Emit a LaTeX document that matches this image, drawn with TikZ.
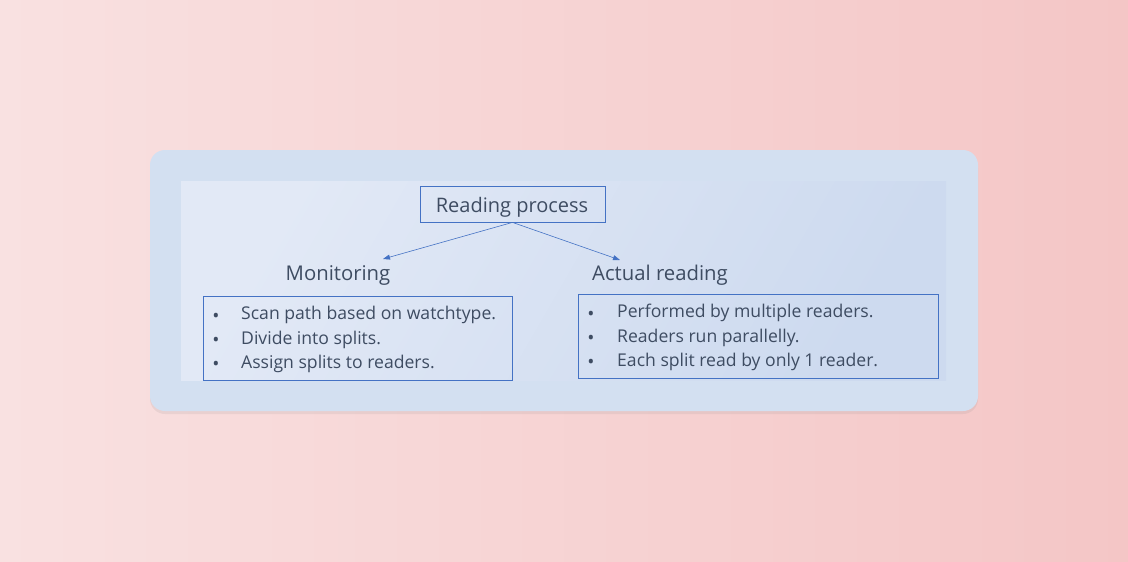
\documentclass[tikz,border=0pt]{standalone}
\usepackage{fontspec}
\setmainfont{Open Sans}
\usetikzlibrary{arrows.meta, shadows}

\definecolor{bgleft}{RGB}{249,225,225}
\definecolor{bgright}{RGB}{244,198,198}
\definecolor{cardblue}{RGB}{211,224,241}
\definecolor{panelhi}{RGB}{226,233,246}
\definecolor{panello}{RGB}{205,218,239}
\definecolor{lineblue}{RGB}{68,114,196}
\definecolor{textgray}{RGB}{62,76,98}

\begin{document}
\begin{tikzpicture}[
    x=1pt, y=-1pt,
    font=\fontsize{17.6}{21}\selectfont,
    every node/.style={text=textgray, inner sep=0pt},
    titlebox/.style={draw=lineblue, line width=0.8pt, minimum width=185pt, minimum height=36pt},
    heading/.style={font=\fontsize{20.3}{24}\selectfont},
    itembox/.style={draw=lineblue, line width=0.8pt, anchor=north west},
    bulletline/.style={anchor=west},
    dotmark/.style={anchor=center, font=\fontsize{19}{20}\selectfont},
    link/.style={draw=lineblue, line width=0.6pt, -{Triangle[length=7pt, width=5pt]}}
  ]

  \useasboundingbox (0,0) rectangle (1128,562);
  % background and card
  \shade[left color=bgleft, right color=bgright] (0,0) rectangle (1128,562);
  \fill[cardblue, rounded corners=15pt, drop shadow={shadow xshift=0pt, shadow yshift=-3pt, opacity=0.12}]
    (150,150) rectangle (978,411);
  \shade[left color=panelhi, right color=panello, shading angle=60] (181,181) rectangle (946,380);

  % top node
  \node[titlebox] (process) at (512.5,204) {};
  \node (processtext) at (512,207) {\fontsize{20}{24}\selectfont Reading process};

  % headings
  \node[heading] (monitor) at (338,275.5) {Monitoring};
  \node[heading] (actual) at (660,275.5) {Actual reading};
  \coordinate (monitortip) at (383,259);
  \coordinate (actualtip) at (620,260);

  \draw[link] (process.south) -- (monitortip);
  \draw[link] (process.south) -- (actualtip);

  % left list
  \node[itembox, minimum width=309pt, minimum height=84pt] (monitorbox) at (203,296) {};
  \node[dotmark] (m1b) at (216,317.5) {•};
  \node[bulletline] (m1) at (241,315) {Scan path based on watchtype.};
  \node[dotmark] (m2b) at (216,341.5) {•};
  \node[bulletline] (m2) at (241,339.5) {Divide into splits.};
  \node[dotmark] (m3b) at (216,365.5) {•};
  \node[bulletline] (m3) at (241,364) {Assign splits to readers.};

  % right list
  \node[itembox, minimum width=360pt, minimum height=84pt] (actualbox) at (578,294) {};
  \node[dotmark] (a1b) at (591,315.5) {•};
  \node[bulletline] (a1) at (617,313) {Performed by multiple readers.};
  \node[dotmark] (a2b) at (591,339.5) {•};
  \node[bulletline] (a2) at (617,337.5) {Readers run parallelly.};
  \node[dotmark] (a3b) at (591,364) {•};
  \node[bulletline] (a3) at (617,362) {Each split read by only 1 reader.};

\end{tikzpicture}
\end{document}
